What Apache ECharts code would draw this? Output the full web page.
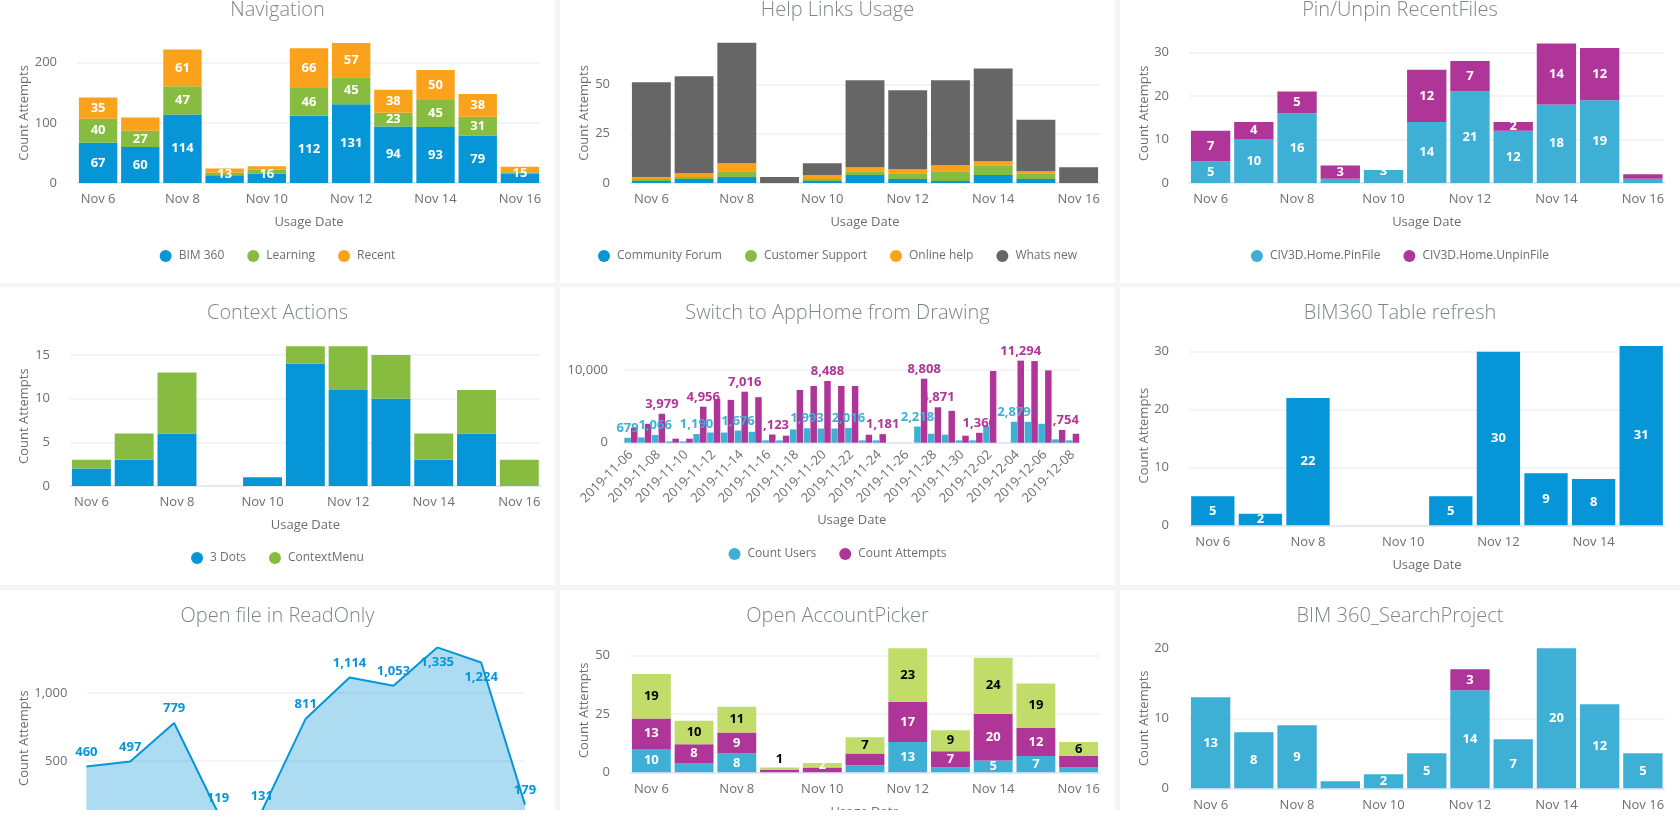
<!DOCTYPE html>
<html>
<head>
<meta charset="utf-8">
<title>Usage dashboard</title>
<style>
    html, body { margin: 0; padding: 0; width: 1680px; height: 818px; overflow: hidden; background: #fff; }
    #page { position: absolute; left: 0; top: 0; width: 1680px; height: 810px; background: #f5f5f5; overflow: hidden; }
    .card { position: absolute; background: #fff; overflow: hidden; }
    .plot { position: absolute; left: 0; top: 0; }
</style>
<script src="https://cdn.jsdelivr.net/npm/echarts@6/dist/echarts.min.js"></script>
</head>
<body>
<div id="page"></div>
<script>
var BLUE = '#0696d7', GREEN = '#87bc40', ORANGE = '#faa21b', GREY = '#666666'
var CYAN = '#3eb0d6', MAGENTA = '#af3599', LIME = '#c1dc69'

var days11 = ['Nov 6', 'Nov 7', 'Nov 8', 'Nov 9', 'Nov 10', 'Nov 11', 'Nov 12', 'Nov 13', 'Nov 14', 'Nov 15', 'Nov 16']
var days10 = ['Nov 6', 'Nov 7', 'Nov 8', 'Nov 9', 'Nov 10', 'Nov 11', 'Nov 12', 'Nov 13', 'Nov 14', 'Nov 15']
var longDates = ['2019-11-06', '2019-11-07', '2019-11-08', '2019-11-09', '2019-11-10', '2019-11-11', '2019-11-12',
    '2019-11-13', '2019-11-14', '2019-11-15', '2019-11-16', '2019-11-17', '2019-11-18', '2019-11-19', '2019-11-20',
    '2019-11-21', '2019-11-22', '2019-11-23', '2019-11-24', '2019-11-25', '2019-11-26', '2019-11-27', '2019-11-28',
    '2019-11-29', '2019-11-30', '2019-12-01', '2019-12-02', '2019-12-03', '2019-12-04', '2019-12-05', '2019-12-06',
    '2019-12-07', '2019-12-08']

// Navigation
var navBim360 = [67, 60, 114, 13, 16, 112, 131, 94, 93, 79, 15]
var navLearning = [40, 27, 47, 4, 6, 46, 45, 23, 45, 31, 3]
var navRecent = [35, 22, 61, 7, 6, 66, 57, 38, 50, 38, 9]

// Help Links Usage
var helpForum = [1, 2, 3, 0, 1, 4, 2, 1, 4, 2, 0]
var helpSupport = [1, 1, 3, 0, 1, 2, 3, 5, 5, 3, 0]
var helpOnline = [1, 2, 4, 0, 2, 2, 2, 3, 2, 1, 0]
var helpWhatsNew = [48, 49, 61, 3, 6, 44, 40, 43, 47, 26, 8]

// Pin/Unpin RecentFiles
var pinFile = [5, 10, 16, 1, 3, 14, 21, 12, 18, 19, 1]
var unpinFile = [7, 4, 5, 3, 0, 12, 7, 2, 14, 12, 1]

// Context Actions
var ctxDots = [2, 3, 6, 0, 1, 14, 11, 10, 3, 6, 0]
var ctxMenu = [1, 3, 7, 0, 0, 2, 5, 5, 3, 5, 3]

// Switch to AppHome from Drawing
var switchUsers = [679, 730, 1066, 180, 180, 1190, 1400, 1400, 1676, 1500, 320, 320, 1830, 1993, 1950, 1950, 2016,
    320, 320, 0, 0, 2218, 1230, 1100, 320, 320, 2330, 0, 2879, 2870, 2600, 460, 320]
var switchAttempts = [2050, 2600, 3979, 550, 550, 4956, 6030, 5890, 7016, 6260, 1123, 960, 7260, 7800, 8488, 7800, 7800,
    1100, 1181, 0, 0, 8808, 4871, 4380, 960, 1366, 9860, 0, 11294, 11230, 9950, 1754, 1230]
var switchUserLabels = [0, 2, 5, 8, 13, 16, 21, 28]
var switchAttemptLabels = [2, 5, 8, 10, 14, 18, 21, 22, 25, 28, 31]

// BIM360 Table refresh
var tableRefresh = [5, 2, 22, 0, 0, 5, 30, 9, 8, 31]

// Open file in ReadOnly
var readOnly = [460, 497, 779, 119, 131, 811, 1114, 1053, 1335, 1224, 179]
var readOnlyLabelsBelow = [8, 9]

// Open AccountPicker
var pickerA = [10, 4, 8, 0, 0, 3, 13, 2, 5, 7, 2]
var pickerB = [13, 8, 9, 1, 2, 5, 17, 7, 20, 12, 5]
var pickerC = [19, 10, 11, 1, 2, 7, 23, 9, 24, 19, 6]

// BIM 360_SearchProject
var searchA = [13, 8, 9, 1, 2, 5, 14, 7, 20, 12, 5]
var searchB = [0, 0, 0, 0, 0, 0, 3, 0, 0, 0, 0]

function thousands(v) {
    return String(v).replace(/\B(?=(\d{3})+$)/g, ',')
}

function barSeries(s) {
    var skip = s.skip || []
    var overrides = s.overrides || {}
    return {
        name: s.name,
        type: 'bar',
        stack: 'total',
        barCategoryGap: '9%',
        itemStyle: { color: s.color },
        label: {
            show: !!s.labels,
            position: 'inside',
            color: s.labelColor || '#fff',
            fontFamily: 'Open Sans',
            fontWeight: 'bold',
            fontSize: 13,
            formatter: function (p) {
                return p.value && skip.indexOf(p.dataIndex) < 0 ? thousands(p.value) : ''
            }
        },
        data: s.data.map(function (v, i) {
            return overrides[i] ? { value: v, label: overrides[i] } : v
        })
    }
}

function groupedSeries(name, data, color, labelled) {
    return {
        name: name,
        type: 'bar',
        barWidth: 6.5,
        barGap: '3%',
        itemStyle: { color: color },
        label: {
            show: true,
            position: 'top',
            distance: 3,
            color: color,
            fontFamily: 'Open Sans',
            fontWeight: 'bold',
            fontSize: 13,
            formatter: function (p) {
                return labelled.indexOf(p.dataIndex) >= 0 ? thousands(p.value) : ''
            }
        },
        data: data
    }
}

function drawChart(cfg) {
    var card = document.createElement('div')
    card.className = 'card'
    card.style.left = cfg.box[0] + 'px'
    card.style.top = cfg.box[1] + 'px'
    card.style.width = cfg.box[2] + 'px'
    card.style.height = cfg.box[3] + 'px'
    document.getElementById('page').appendChild(card)

    var dom = document.createElement('div')
    dom.className = 'plot'
    dom.style.width = cfg.box[2] + 'px'
    dom.style.height = '320px'
    card.appendChild(dom)

    var top = cfg.plotTop - cfg.box[1]
    var option = {
        animation: false,
        textStyle: { fontFamily: 'Open Sans' },
        title: {
            text: cfg.title,
            left: 'center',
            top: 11,
            textStyle: { color: '#808488', fontFamily: 'Open Sans', fontWeight: 300, fontSize: 20 }
        },
        grid: {
            left: cfg.left,
            width: cfg.width,
            top: top,
            height: cfg.plotBottom - cfg.plotTop
        },
        xAxis: {
            type: 'category',
            data: cfg.categories,
            boundaryGap: !cfg.line,
            name: 'Usage Date',
            nameLocation: 'middle',
            nameGap: cfg.xNameGap || 33,
            nameTextStyle: { color: '#6e6e6e', fontSize: 13, fontFamily: 'Open Sans' },
            axisLine: { lineStyle: { color: '#dfe5f2', width: 1.5 } },
            axisTick: { show: false },
            axisLabel: {
                interval: 1,
                margin: cfg.xMargin || 10,
                rotate: cfg.rotate || 0,
                color: '#6e6e6e',
                fontSize: 13,
                fontFamily: 'Open Sans'
            }
        },
        yAxis: {
            type: 'value',
            min: 0,
            max: cfg.yMax,
            interval: cfg.interval,
            name: cfg.noYName ? '' : 'Count Attempts',
            nameLocation: 'middle',
            nameGap: cfg.left - 31,
            nameMoveOverlap: false,
            nameTextStyle: { color: '#6e6e6e', fontSize: 13, fontFamily: 'Open Sans' },
            axisLine: { show: false },
            axisTick: { show: false },
            splitLine: { showMaxLine: false, lineStyle: { color: '#eef0f3', width: 1.5 } },
            axisLabel: {
                margin: cfg.yMargin || 20,
                color: '#6e6e6e',
                fontSize: 13,
                fontFamily: 'Open Sans',
                formatter: function (v) { return thousands(v) },
                showMaxLabel: cfg.yMax % cfg.interval === 0
            }
        },
        series: cfg.series
    }
    if (cfg.legend) {
        option.legend = {
            left: 'center',
            top: cfg.legendY - cfg.box[1] - 10,
            icon: 'circle',
            itemWidth: 12,
            itemHeight: 12,
            itemGap: 23,
            textStyle: { color: '#6e6e6e', fontSize: 12, fontFamily: 'Open Sans', padding: [0, 0, 0, 2] },
            data: cfg.legend
        }
    }
    echarts.init(dom).setOption(option)
}

drawChart({
    title: 'Navigation', box: [0, -16, 555, 299], left: 77, width: 464, plotTop: 42.9, plotBottom: 183,
    yMax: 233, interval: 100, categories: days11, legendY: 255, legend: ['BIM 360', 'Learning', 'Recent'],
    series: [
        barSeries({
            name: 'BIM 360', data: navBim360, color: BLUE, labels: true,
            overrides: { 3: { offset: [0, -5] }, 4: { offset: [0, -4] }, 10: { offset: [0, -5] } }
        }),
        barSeries({ name: 'Learning', data: navLearning, color: GREEN, labels: true, skip: [3, 4, 10] }),
        barSeries({ name: 'Recent', data: navRecent, color: ORANGE, labels: true, skip: [1, 3, 4, 10] })
    ]
})

drawChart({
    title: 'Help Links Usage', box: [560, -16, 555, 299], left: 70, width: 470, plotTop: 42.8, plotBottom: 183,
    yMax: 71, interval: 25, categories: days11, legendY: 255,
    legend: ['Community Forum', 'Customer Support', 'Online help', 'Whats new'],
    series: [
        barSeries({ name: 'Community Forum', data: helpForum, color: BLUE }),
        barSeries({ name: 'Customer Support', data: helpSupport, color: GREEN }),
        barSeries({ name: 'Online help', data: helpOnline, color: ORANGE }),
        barSeries({ name: 'Whats new', data: helpWhatsNew, color: GREY })
    ]
})

drawChart({
    title: 'Pin/Unpin RecentFiles', box: [1120, -16, 560, 299], left: 69, width: 475.5, plotTop: 43.6, plotBottom: 183,
    yMax: 32, interval: 10, categories: days11, legendY: 255,
    legend: ['CIV3D.Home.PinFile', 'CIV3D.Home.UnpinFile'],
    series: [
        barSeries({
            name: 'CIV3D.Home.PinFile', data: pinFile, color: CYAN, labels: true, skip: [3, 10],
            overrides: { 4: { offset: [0, -5] } }
        }),
        barSeries({ name: 'CIV3D.Home.UnpinFile', data: unpinFile, color: MAGENTA, labels: true, skip: [10] })
    ]
})

drawChart({
    title: 'Context Actions', box: [0, 287, 555, 298], left: 70, width: 470.7, plotTop: 346.3, plotBottom: 486,
    yMax: 16, interval: 5, categories: days11, legendY: 557, legend: ['3 Dots', 'ContextMenu'],
    series: [
        barSeries({ name: '3 Dots', data: ctxDots, color: BLUE }),
        barSeries({ name: 'ContextMenu', data: ctxMenu, color: GREEN })
    ]
})

drawChart({
    title: 'Switch to AppHome from Drawing', box: [560, 287, 555, 298], left: 64, width: 455.5, plotTop: 360.6, plotBottom: 442.7,
    yMax: 11294, interval: 10000, categories: longDates, rotate: 45, xMargin: 10, xNameGap: 71, yMargin: 16, noYName: true,
    legendY: 553, legend: ['Count Users', 'Count Attempts'],
    series: [
        groupedSeries('Count Users', switchUsers, CYAN, switchUserLabels),
        groupedSeries('Count Attempts', switchAttempts, MAGENTA, switchAttemptLabels)
    ]
})

drawChart({
    title: 'BIM360 Table refresh', box: [1120, 287, 560, 298], left: 69, width: 476, plotTop: 345.9, plotBottom: 525.3,
    yMax: 31, interval: 10, categories: days10,
    series: [
        barSeries({ name: 'Count Attempts', data: tableRefresh, color: BLUE, labels: true })
    ]
})

drawChart({
    title: 'Open file in ReadOnly', box: [0, 590, 555, 220], left: 86.4, width: 438.6, plotTop: 647.4, plotBottom: 829,
    yMax: 1335, interval: 500, categories: days11, line: true, yMargin: 19,
    series: [{
        name: 'Count Attempts',
        type: 'line',
        showSymbol: true,
        showAllSymbol: true,
        symbol: 'circle',
        symbolSize: 0.1,
        itemStyle: { color: BLUE },
        lineStyle: { color: BLUE, width: 2 },
        areaStyle: { color: BLUE, opacity: 0.33 },
        label: {
            show: true,
            color: BLUE,
            distance: 8,
            fontFamily: 'Open Sans',
            fontWeight: 'bold',
            fontSize: 13,
            formatter: function (p) { return thousands(p.value) }
        },
        data: readOnly.map(function (v, i) {
            return { value: v, label: { position: readOnlyLabelsBelow.indexOf(i) >= 0 ? 'bottom' : 'top' } }
        })
    }]
})

drawChart({
    title: 'Open AccountPicker', box: [560, 590, 555, 220], left: 70, width: 470, plotTop: 648.3, plotBottom: 772.3,
    yMax: 53, interval: 25, categories: days11,
    series: [
        barSeries({ name: 'Users', data: pickerA, color: CYAN, labels: true, skip: [1, 5, 7, 10] }),
        barSeries({ name: 'Attempts', data: pickerB, color: MAGENTA, labels: true, skip: [3, 4, 5, 10] }),
        barSeries({
            name: 'Other', data: pickerC, color: LIME, labels: true, labelColor: '#000',
            overrides: { 3: { position: 'top', distance: 2 }, 4: { color: '#fff' } }
        })
    ]
})

drawChart({
    title: 'BIM 360_SearchProject', box: [1120, 590, 560, 220], left: 69, width: 475.5, plotTop: 648.3, plotBottom: 788.3,
    yMax: 20, interval: 10, categories: days11,
    series: [
        barSeries({ name: 'Users', data: searchA, color: CYAN, labels: true, skip: [3] }),
        barSeries({ name: 'Attempts', data: searchB, color: MAGENTA, labels: true })
    ]
})
</script>
</body>
</html>
